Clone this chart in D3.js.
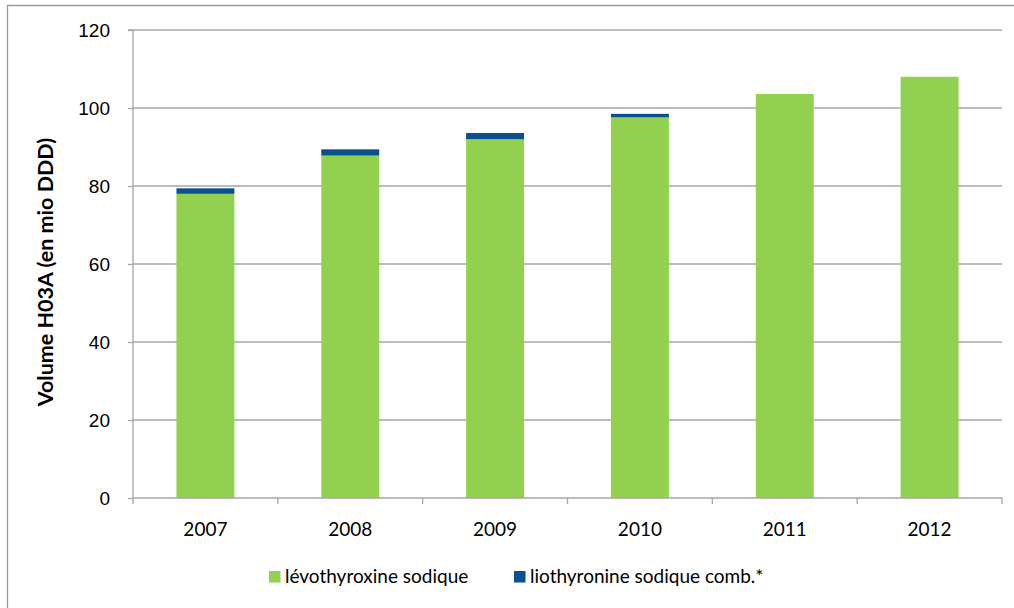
<!DOCTYPE html>
<html>
<head>
<meta charset="utf-8">
<script src="https://cdn.jsdelivr.net/npm/d3@7"></script>
<style>
  html, body { margin: 0; padding: 0; background: #fff; }
  svg { display: block; font-family: Lato, "Open Sans", "Liberation Sans", sans-serif; }
</style>
</head>
<body>
<svg id="chart" width="1014" height="608"></svg>
<script>
// Annual volume of thyroid hormones (H03A), in millions of DDD
const years = ["2007", "2008", "2009", "2010", "2011", "2012"];
const levothyroxine = [78.0, 87.8, 92.0, 97.6, 103.6, 108.0];
const liothyronine = [1.4, 1.6, 1.6, 0.9, 0, 0];
const yTicks = [0, 20, 40, 60, 80, 100, 120];
const seriesNames = ["lévothyroxine sodique", "liothyronine sodique comb.*"];
const seriesColors = ["#92D050", "#0A4F8E"];

const svg = d3.select("#chart");
const plot = { left: 133, right: 1002, top: 30, bottom: 498 };

// Outer chart frame (top and left edges visible)
svg.append("path")
  .attr("d", "M7.5,608 L7.5,5.5 L1014,5.5")
  .attr("fill", "none").attr("stroke", "#9a9a9a").attr("stroke-width", 1.3);

const x = d3.scaleBand().domain(years)
  .range([plot.left, plot.right]).paddingInner(0.6).paddingOuter(0.3);
const y = d3.scaleLinear().domain([0, 120]).range([plot.bottom, plot.top]);

// Horizontal gridlines
svg.append("g").selectAll("line").data(yTicks.filter(d => d > 0)).join("line")
  .attr("x1", plot.left).attr("x2", plot.right)
  .attr("y1", d => y(d)).attr("y2", d => y(d))
  .attr("stroke", "#a6a6a6").attr("stroke-width", 1.3);

// Stacked bars
const rows = years.map((yr, i) => ({ year: yr, levo: levothyroxine[i], lio: liothyronine[i] }));
const stacked = d3.stack().keys(["levo", "lio"])(rows);
svg.append("g").selectAll("g").data(stacked).join("g")
  .attr("fill", (d, i) => seriesColors[i])
  .selectAll("rect").data(d => d.filter(p => p[1] - p[0] > 0)).join("rect")
  .attr("x", d => x(d.data.year))
  .attr("width", x.bandwidth())
  .attr("y", d => y(d[1]))
  .attr("height", d => y(d[0]) - y(d[1]));

// Y axis
const yAxis = svg.append("g").attr("transform", `translate(${plot.left},0)`)
  .call(d3.axisLeft(y).tickValues(yTicks).tickSize(5).tickPadding(18));
yAxis.select(".domain").attr("stroke", "#a6a6a6").attr("stroke-width", 1.3)
  .attr("d", `M-5,${plot.top}H0V${plot.bottom}`);
yAxis.selectAll(".tick line").attr("stroke", "#a6a6a6").attr("stroke-width", 1.3);
yAxis.selectAll(".tick text").attr("font-size", 19).attr("fill", "#000");

// X axis with ticks at category boundaries
const xAxisG = svg.append("g").attr("transform", `translate(0,${plot.bottom})`);
xAxisG.append("line").attr("x1", plot.left).attr("x2", plot.right)
  .attr("stroke", "#a6a6a6").attr("stroke-width", 1.3);
const step = x.step();
const bounds = d3.range(years.length + 1).map(i => plot.left + i * step);
xAxisG.selectAll("line.tk").data(bounds).join("line").attr("class", "tk")
  .attr("x1", d => d).attr("x2", d => d).attr("y1", 0).attr("y2", 6)
  .attr("stroke", "#a6a6a6").attr("stroke-width", 1.3);
xAxisG.selectAll("text").data(years).join("text")
  .attr("x", d => x(d) + x.bandwidth() / 2).attr("y", 38)
  .attr("text-anchor", "middle").attr("font-size", 19).attr("fill", "#000")
  .text(d => d);

// Y axis title
svg.append("text")
  .attr("transform", "translate(53,272) rotate(-90)")
  .attr("text-anchor", "middle").attr("font-size", 21.5).attr("font-weight", "bold")
  .attr("fill", "#000").text("Volume H03A (en mio DDD)");

// Legend
const legendItems = [{ x: 269, name: seriesNames[0], color: seriesColors[0] },
                     { x: 514, name: seriesNames[1], color: seriesColors[1] }];
const lg = svg.append("g").selectAll("g").data(legendItems).join("g")
  .attr("transform", d => `translate(${d.x},0)`);
lg.append("rect").attr("x", 0).attr("y", 571).attr("width", 11.5).attr("height", 11.5)
  .attr("fill", d => d.color);
lg.append("text").attr("x", 16).attr("y", 583).attr("font-size", 19).attr("fill", "#000")
  .text(d => d.name);
</script>
</body>
</html>
